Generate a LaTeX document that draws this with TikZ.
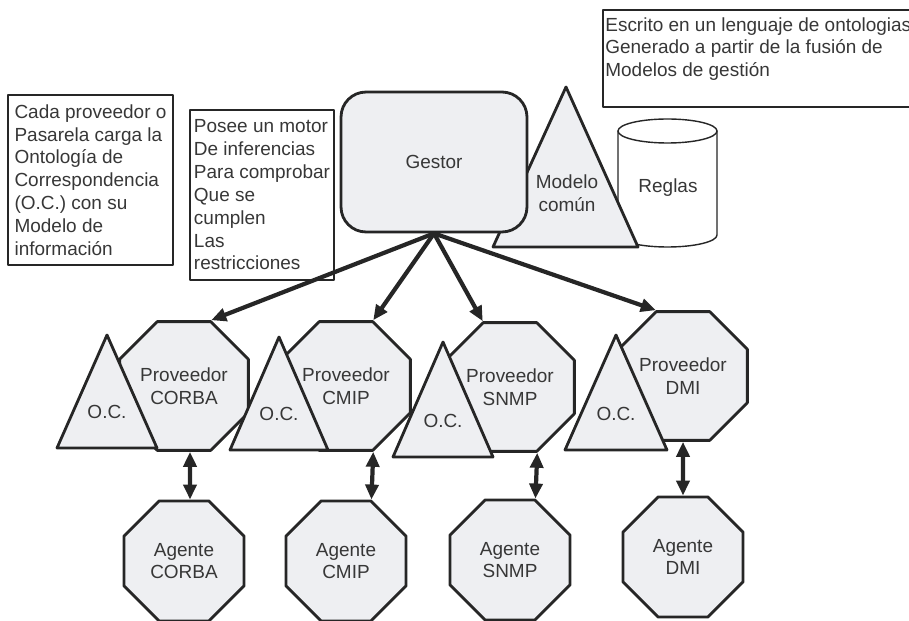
\documentclass[tikz,border=0pt]{standalone}
\usepackage{fontspec}
\setmainfont{Liberation Sans}
\usetikzlibrary{shapes.geometric,arrows.meta,calc,positioning}
\definecolor{relleno}{RGB}{238,239,242}
\definecolor{trazo}{RGB}{38,38,38}
\definecolor{letra}{RGB}{55,55,55}

\begin{document}
\begin{tikzpicture}[x=0.02cm, y=-0.02cm, line join=round, line cap=round,
  font=\fontsize{10.8pt}{13pt}\selectfont, text=letra,
  octa/.style={regular polygon, regular polygon sides=8, minimum size=2.6cm, inner sep=1pt, draw=trazo, fill=relleno, line width=1.6pt, align=center},
  caja/.style={draw=trazo, line width=0.9pt, align=left, inner xsep=0.08cm},
  tri/.style={draw=trazo, fill=relleno, line width=1.6pt},
  flecha/.style={draw=trazo, line width=2.4pt, -{Triangle[length=0.3cm,width=0.26cm]}},
  doble/.style={draw=trazo, line width=2.4pt, {Triangle[length=0.3cm,width=0.26cm]}-{Triangle[length=0.3cm,width=0.26cm]}}]
\useasboundingbox (0,0) rectangle (909,621);

% reglas
\filldraw[draw=trazo, fill=white, line width=0.8pt] (618,131) -- (618,235) arc[start angle=180, end angle=0, x radius=49.5, y radius=12] -- (717,131) arc[start angle=0, end angle=-180, x radius=49.5, y radius=12] -- cycle;
\draw[trazo, line width=0.8pt] (618,131) arc[start angle=180, end angle=0, x radius=49.5, y radius=12];
\node (reglas) at (668,188) {Reglas};

% modelo comun y gestor
\draw[tri] (566,87) -- (638,247) -- (493,247) -- cycle;
\node[align=center] (modelo) at (567,193) {Modelo\\común};
\node[draw=trazo, fill=relleno, line width=1.6pt, rounded corners=0.5cm, minimum width=3.72cm, minimum height=2.8cm] (gestor) at (434,162) {Gestor};

% notas
\node[caja, minimum width=3.3cm, minimum height=3.4cm] (nota1) at (90.5,180) {Cada proveedor o\\Pasarela carga la\\Ontología de\\Correspondencia\\(O.C.) con su\\Modelo de\\información};
\node[caja, minimum width=2.88cm, minimum height=3.4cm] (nota2) at (262,195) {Posee un motor\\De inferencias\\Para comprobar\\Que se\\cumplen\\Las\\restricciones};
\node[caja, minimum width=6.3cm, minimum height=1.94cm, anchor=north west] (nota3) at (602,9) {};
\node[anchor=north west, align=left, inner sep=0pt] (nota3txt) at (605,17) {Escrito en un lenguaje de ontologias\\Generado a partir de la fusión de\\Modelos de gestión};

% proveedores y agentes
\foreach \n/\t/\x/\y/\ya in {corba/CORBA/184/386/561, cmip/CMIP/346/386/561, snmp/SNMP/510/387/560, dmi/DMI/683/376/557}{
  \node[octa] (p\n) at (\x,\y) {Proveedor\\\t};
  \node[octa] (a\n) at (\x,\ya) {Agente\\\t};}

% O.C.
\foreach \n/\x/\t/\b/\h in {corba/107/335/448/50, cmip/279/337/450/49, snmp/443/342/457/50, dmi/616/335/450/51}{
  \draw[tri] (\x,\t) -- (\x+\h,\b) -- (\x-\h,\b) -- cycle;
  \node (oc\n) at (\x,\b-36) {O.C.};}

% conexiones
\foreach \n/\c in {corba/1, cmip/1, snmp/2, dmi/2}
  \draw[flecha] (gestor.south) -- (p\n.corner \c);
\draw[doble] ([xshift=0.12cm]pcorba.south) -- ([xshift=0.12cm]acorba.north);
\draw[doble] (pcmip.corner 6) -- (acmip.corner 1);
\draw[doble] (psnmp.corner 6) -- (asnmp.corner 1);
\draw[doble] (pdmi.south) -- (admi.north);
\end{tikzpicture}
\end{document}
